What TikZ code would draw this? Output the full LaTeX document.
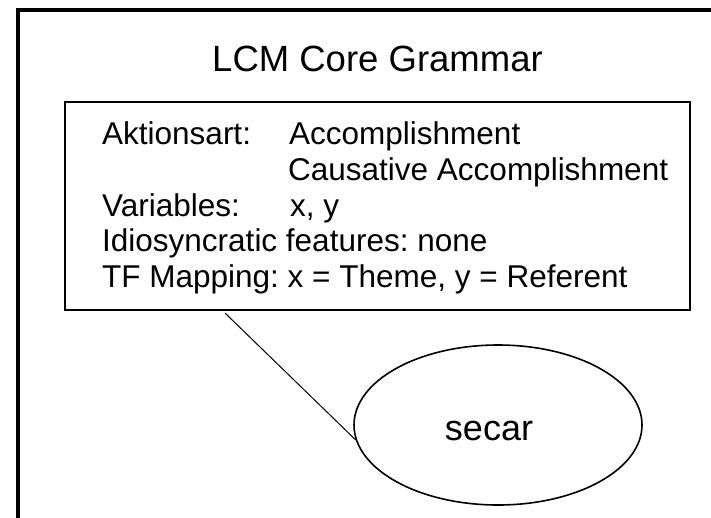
\documentclass[tikz,border=0pt]{standalone}
\usepackage{fontspec}
\setmainfont{Liberation Sans}
\usetikzlibrary{shapes.geometric}
\frenchspacing
\begin{document}
\begin{tikzpicture}[x=1pt,y=-1pt,
  frameline/.style={line width=4pt},
  gbox/.style={draw, line width=2pt, minimum width=625pt, minimum height=208pt, inner sep=0pt},
  oval/.style={draw, ellipse, line width=1.6pt, minimum width=288pt, minimum height=160pt, inner sep=0pt},
  ttl/.style={font=\fontsize{36.5}{40}\selectfont, anchor=base, inner sep=0pt},
  body/.style={font=\fontsize{31.5}{36}\selectfont, anchor=base west, inner sep=0pt},
  big/.style={font=\fontsize{36}{40}\selectfont}]
  \useasboundingbox (0,0) rectangle (711,517);
  \clip (0,0) rectangle (711,517);
  % outer slide frame, running past the page edge
  \draw[frameline] (18,540) -- (18,10) -- (740,10);
  % title
  \node[ttl] (title) at (377.5,71) {LCM Core Grammar};
  % grammar box and its entries
  \node[gbox] (box) at (377.5,206) {};
  \node[body] (akt)   at (102,144) {Aktionsart:};
  \node[body] (akt1)  at (289,144) {Accomplishment};
  \node[body] (akt2)  at (288,180) {Causative Accomplishment};
  \node[body] (var)   at (102,216) {Variables:};
  \node[body] (var1)  at (290,216) {x, y};
  \node[body] (idio)  at (102,251.5) {Idiosyncratic features: none};
  \node[body] (tf)    at (102,287) {TF Mapping: x = Theme, y = Referent};
  % lexical entry
  \node[oval] (secar) at (498,425) {};
  \node[big, anchor=base, inner sep=0pt] (secartxt) at (489,440) {secar};
  \coordinate (tail) at (225,313);
  \draw[line width=1pt] (tail) -- (secar.186);
\end{tikzpicture}
\end{document}
